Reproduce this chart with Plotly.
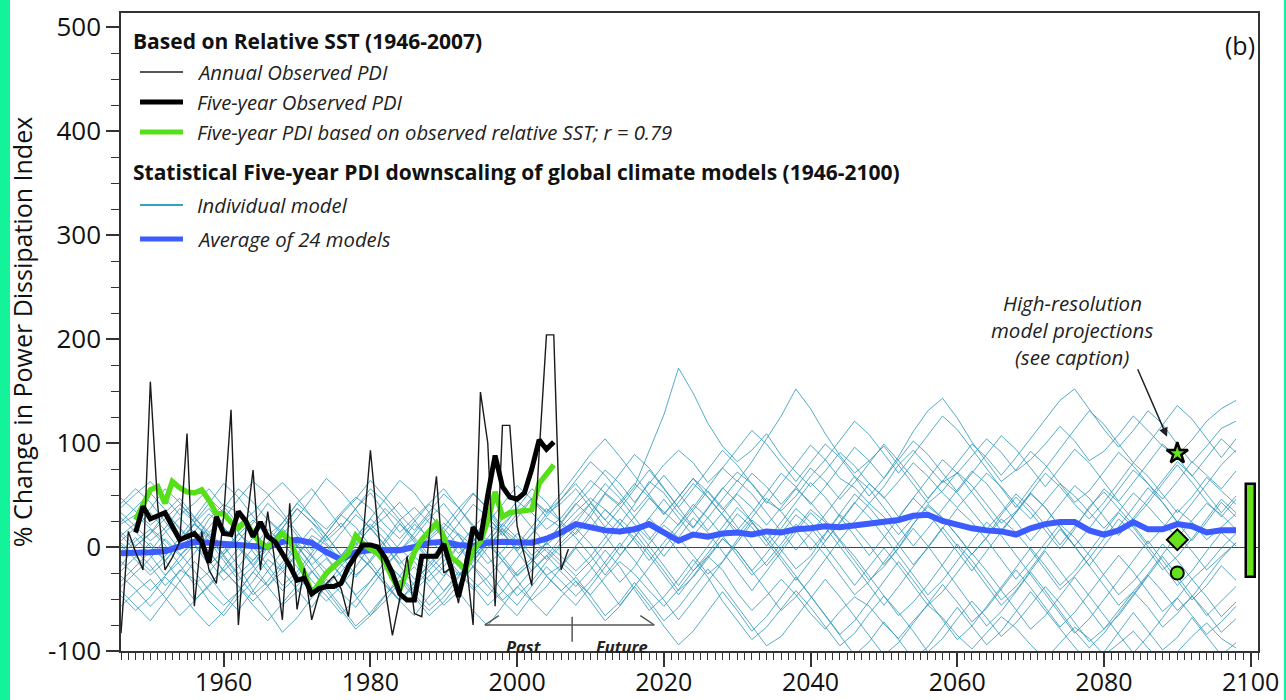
import plotly.graph_objects as go

# ---------------- data ----------------
OBS_YEARS = list(range(1946, 2008))
ANNUAL_PDI = [-83, 15, -5, -22, 159, 40, -22, -10, 5, 109, -57, 15, -22, -35, 30, 132, -75, 15, 74, -22,
              34, -15, -70, 42, -60, -20, -70, -45, -35, -28, -40, -67, -10, 10, 93, 20, -40, -85, -50, -9,
              -64, -67, 10, 68, -25, -20, -54, -10, -75, 149, 100, -57, 117, 117, 20, -10, -37, 90, 204, 204,
              -22, -2]

FIVE_YEARS = list(range(1948, 2006))
FIVE_YEAR_PDI = [14, 39, 27, 30, 33, 20, 7, 10, 13, 5, -15, 29, 13, 12, 34, 25, 10, 24, 10, 5,
                 -6, -18, -32, -30, -45, -40, -38, -38, -35, -19, -8, 2, 2, 0, -10, -25, -45, -51, -51, -9,
                 -9, -9, 3, -20, -48, -19, 19, 7, 50, 88, 58, 48, 46, 52, 75, 103, 94, 101]
SST_PDI = [26, 42, 55, 58, 42, 63, 57, 53, 52, 55, 45, 32, 32, 24, 18, 25, 12, 4, 0, 5,
           13, 6, -9, -25, -45, -35, -25, -19, -12, -6, 11, 3, -2, -6, -15, -30, -41, -22, -5, 7,
           15, 23, 10, -10, -15, -22, -3, 5, 25, 53, 29, 33, 34, 35, 36, 61, 70, 79]

MODEL_YEARS = list(range(1946, 2099, 2))
MODEL_AVG = [-6, -6, -5, -4, 0, 5, 4, 3, 3, 2, 0, 5, 7, 4, -5, -12, -5, -3, -3, -3,
             0, 4, 5, 2, 1, 4, 5, 5, 4, 8, 14, 22, 19, 16, 15, 17, 22, 14, 6, 12,
             10, 13, 14, 12, 15, 14, 17, 18, 20, 19, 21, 22, 24, 26, 30, 31, 25, 21, 18, 16,
             15, 12, 18, 22, 24, 24, 16, 12, 16, 24, 17, 17, 22, 20, 14, 16, 16]

MODEL_01 = [22, 31, 18, 6, -8, 4, 27, 41, 33, 12, -3, -21, -9, 11, 2, -17, -29, -12, 7, 26, 38, 24, 9, -6, 5, 21, 14, -2, 12, 28, 19,
            34, 47, 36, 22, 41, 63, 52, 33, 18, 37, 56, 72, 61, 44, 35, 49, 68, 84, 66, 57, 42, 58, 79, 93, 77, 62, 71, 88, 104, 91,
            73, 84, 99, 116, 102, 83, 92, 108, 126, 112, 97, 88, 103, 121, 133, 141]
MODEL_02 = [-28, -41, -57, -43, -22, -31, -52, -66, -48, -33, -12, -23, -41, -58, -37, -18, -4, -19, -36, -51, -38, -22, -7, -24, -41, -29, -13, 3, -11, -27, -18,
            -33, -46, -29, -14, -26, -42, -57, -41, -23, -9, -22, -44, -61, -47, -31, -46, -64, -79, -62, -48, -57, -74, -88, -71, -56, -68, -85, -98, -83, -67,
            -78, -94, -108, -92, -77, -88, -104, -93, -81, -97, -112, -101, -86, -73, -88, -97]
MODEL_03 = [38, 51, 63, 47, 31, 42, 56, 39, 22, 33, 49, 62, 47, 29, 17, 33, 48, 37, 21, 8, 24, 41, 29, 12, -7, 9, 27, 44, 33, 17, 28,
            46, 64, 52, 41, 58, 92, 127, 172, 148, 119, 97, 82, 93, 109, 88, 72, 58, 73, 91, 78, 61, 47, 63, 81, 68, 52, 38, 54, 71, 58,
            41, 27, 44, 61, 49, 33, 18, 34, 52, 39, 23, 9, 26, 42, 31, 17]
MODEL_04 = [-8, 6, 17, 2, -17, -36, -24, -7, 12, 26, 11, -6, -27, -44, -29, -11, 8, 22, 7, -12, -31, -19, -2, 13, 1, -16, -4, 13, 2, -12, 4,
            18, 3, -16, -34, -19, 3, 21, 9, -8, -26, -14, 7, 26, 14, -3, -21, -9, 12, 31, 19, 2, -17, -1, 22, 39, 28, 11, -7, 9, 31,
            48, 33, 16, -2, 17, 39, 53, 37, 21, 3, 18, 36, 24, 7, 19, 32]
MODEL_05 = [2, -13, -27, -14, 4, 22, 11, -8, -26, -13, 3, 18, 2, -17, -4, 13, 31, 19, 2, -16, -3, 9, 23, 11, -8, 4, 22, 36, 19, 2, 14,
            28, 42, 26, 12, 29, 47, 34, 21, 38, 57, 76, 63, 82, 104, 126, 152, 133, 109, 88, 71, 83, 97, 79, 61, 42, 54, 72, 59, 41, 23,
            34, 52, 71, 58, 41, 27, 43, 62, 81, 68, 51, 33, 48, 67, 54, 41]
MODEL_06 = [-57, -43, -31, -48, -66, -52, -36, -22, -38, -56, -71, -54, -37, -23, -39, -57, -76, -63, -46, -32, -48, -66, -53, -36, -18, -33, -51, -39, -22, -8, -24,
            -38, -22, -3, -19, -41, -61, -48, -31, -12, -29, -52, -71, -89, -77, -59, -42, -58, -76, -95, -83, -64, -47, -63, -81, -101, -88, -69, -52, -68, -86,
            -73, -56, -38, -54, -72, -91, -79, -61, -43, -58, -77, -64, -47, -63, -82, -69]
MODEL_07 = [24, 38, 52, 36, 17, 3, 19, 37, 56, 43, 26, 12, 28, 47, 66, 53, 36, 17, 29, 43, 26, 7, 19, 37, 52, 36, 17, 2, 19, 37, 24,
            12, 29, 51, 39, 22, 7, 24, 43, 61, 48, 31, 16, 33, 52, 71, 58, 41, 58, 77, 96, 83, 66, 87, 111, 131, 143, 124, 101, 82, 63,
            74, 92, 79, 61, 43, 54, 72, 91, 78, 61, 46, 63, 82, 69, 56, 73]
MODEL_08 = [11, -3, -18, -37, -24, -6, 13, 1, -18, -42, -61, -82, -68, -49, -31, -44, -58, -39, -21, -2, -14, -33, -19, 1, 18, 6, -13, -28, -14, 4, -9,
            -23, -9, 9, 27, 14, -4, -23, -42, -29, -11, 8, -4, -23, -42, -61, -48, -31, -12, 7, -9, -28, -47, -66, -53, -36, -17, 3, -13, -32, -51,
            -38, -21, -2, 17, 1, -18, -37, -56, -43, -26, -7, 12, -4, -22, -9, 4]
MODEL_09 = [-18, 1, 13, 32, 19, 2, -17, -4, 13, 1, -18, -37, -24, -6, 13, 31, 46, 64, 48, 31, 16, 33, 51, 38, 21, 2, 14, 32, 47, 34, 46,
            61, 44, 26, 43, 61, 48, 31, 48, 66, 53, 36, 52, 71, 58, 41, 57, 76, 63, 46, 62, 81, 99, 83, 66, 47, 63, 81, 99, 86, 69,
            86, 104, 123, 141, 152, 133, 113, 96, 112, 131, 118, 99, 81, 97, 114, 121]
MODEL_10 = [28, 14, 1, -13, 4, 22, 9, -9, -27, -46, -33, -14, 4, -9, -27, -14, 3, 18, 1, -18, -37, -56, -43, -24, -38, -56, -43, -24, -11, -28, -42,
            -29, -47, -66, -53, -34, -52, -71, -58, -39, -21, -38, -57, -76, -95, -86, -68, -49, -31, -48, -67, -86, -104, -92, -73, -54, -36, -53, -72, -59, -41,
            -22, -39, -58, -77, -63, -44, -26, -8, -24, -43, -62, -49, -31, -48, -67, -53]
MODEL_11 = [47, 34, 21, 33, 47, 29, 11, -7, 6, 23, 42, 29, 11, -8, -22, -9, 9, 27, 14, -3, 9, 27, 42, 24, 6, 23, 41, 59, 46, 29, 46,
            64, 82, 69, 52, 34, 51, 69, 52, 34, 16, 33, 51, 38, 21, 38, 56, 43, 26, 7, 24, 42, 29, 12, 28, 46, 64, 52, 34, 17, 33,
            51, 38, 21, 2, 19, 37, 56, 43, 26, 42, 61, 79, 62, 44, 29, 46]
MODEL_12 = [-38, -24, -11, 8, -6, -23, -42, -56, -43, -24, -6, 13, 1, -18, -37, -24, -6, -19, -37, -52, -34, -16, -1, -19, -33, -47, -29, -11, 8, -4, -18,
            1, 18, 36, 23, 6, -13, 4, 22, 41, 28, 11, -8, -27, -14, 3, 22, 9, -8, -27, -46, -33, -15, 3, 22, 41, 28, 11, -7, 9, 27,
            14, -3, -22, -41, -28, -11, 8, 27, 14, -3, -22, -9, 8, 27, 46, 33]
MODEL_13 = [6, 19, 33, 16, -3, 14, 32, 19, 1, -17, 1, 18, 37, 24, 6, 19, 37, 56, 43, 26, 7, -12, 4, 22, 41, 29, 11, 28, 46, 33, 51,
            70, 89, 104, 87, 69, 51, 32, 48, 66, 48, 31, 12, 28, 47, 34, 16, -3, 13, 32, 51, 38, 21, 2, -17, -1, 18, 37, 24, 7, -12,
            -31, -14, 4, 22, 9, -8, -27, -46, -33, -16, 3, -13, -31, -18, -1, 13]
MODEL_14 = [-4, 9, -8, -27, -14, 3, -13, -32, -19, -1, 17, 4, -13, -32, -47, -64, -51, -33, -14, 3, 22, 9, -8, -27, -14, 3, -13, -32, -51, -38, -19,
            -1, -18, -37, -56, -38, -19, -1, 17, 36, 54, 38, 19, 1, -18, -1, 17, 36, 24, 6, -13, -32, -19, -1, 18, 1, -18, -37, -56, -76, -62,
            -43, -24, -42, -61, -81, -97, -83, -64, -46, -27, -43, -61, -48, -29, -11, 4]
MODEL_15 = [14, 1, 13, 27, 41, 28, 14, 27, 46, 63, 51, 33, 14, -3, 13, 31, 19, 1, -17, -4, 13, 31, 18, 1, -13, 4, 22, 9, -8, 4, 22,
            41, 56, 74, 61, 43, 61, 79, 93, 81, 62, 76, 94, 112, 99, 81, 63, 81, 99, 86, 68, 49, 66, 84, 102, 89, 71, 53, 71, 89, 107,
            94, 76, 58, 76, 94, 81, 63, 44, 62, 81, 99, 86, 68, 86, 104, 91]
MODEL_16 = [-23, -9, 4, -13, -32, -51, -38, -19, -1, -18, -37, -24, -6, 8, -9, -27, -46, -33, -14, -28, -46, -61, -48, -29, -11, 8, -9, -27, -14, -1, -14,
            -28, -14, 3, 22, 9, -8, -27, -46, -28, -9, 8, -4, -23, -6, 13, 31, 19, 1, -18, -37, -19, -1, -18, -37, -56, -43, -24, -6, -23, -42,
            -61, -79, -66, -48, -29, -47, -66, -84, -102, -86, -68, -49, -66, -84, -72, -57]
MODEL_17 = [33, 19, 6, 18, 37, 24, 6, -13, -32, -19, -1, 18, 37, 24, 11, -8, -27, -14, 4, 22, 9, -8, -23, -37, -19, -1, 18, 6, -13, 4, 22,
            9, -8, -27, -9, 9, 27, 46, 28, 11, 28, 46, 64, 51, 33, 16, -3, 13, 31, 49, 68, 56, 38, 19, 1, 18, 36, 54, 73, 61, 43,
            24, 6, 23, 41, 59, 47, 29, 11, 28, 46, 64, 82, 69, 51, 33, 49]
MODEL_18 = [-47, -61, -48, -29, -42, -61, -76, -62, -43, -24, -38, -56, -43, -24, -11, -28, -47, -66, -52, -33, -19, -37, -56, -43, -61, -76, -57, -38, -52, -66, -48,
            -33, -52, -71, -57, -38, -56, -76, -94, -81, -62, -43, -61, -81, -67, -48, -29, -47, -66, -86, -104, -91, -72, -89, -108, -96, -77, -58, -76, -94, -81,
            -62, -43, -61, -79, -96, -112, -101, -82, -63, -81, -99, -87, -68, -86, -104, -92]
MODEL_19 = [11, 23, 37, 56, 43, 24, 42, 61, 48, 29, 11, 23, 42, 29, 11, -8, 9, 28, 46, 64, 52, 33, 14, 32, 51, 38, 19, 37, 56, 43, 24,
            42, 29, 11, -8, 9, 28, 14, -4, -23, -6, 13, 32, 19, 1, 18, 37, 24, 6, 23, 42, 61, 48, 29, 47, 66, 84, 71, 53, 34, 16,
            33, 51, 38, 19, 1, 18, 37, 56, 74, 61, 43, 24, 42, 61, 79, 93]
MODEL_20 = [-14, -28, -42, -28, -9, 8, -4, -23, -9, 9, 27, 14, -4, -23, -42, -61, -79, -66, -47, -28, -9, -23, -42, -28, -9, -23, -42, -56, -38, -19, -33,
            -47, -33, -14, 4, -13, -32, -51, -70, -52, -33, -14, 4, 23, 9, -9, -28, -47, -66, -84, -71, -52, -33, -14, -32, -51, -70, -89, -76, -57, -38,
            -19, -1, -18, -37, -23, -4, 14, 33, 19, 1, -18, -37, -23, -4, 14, 1]
MODEL_21 = [42, 56, 43, 24, 6, 23, 37, 19, 1, -13, 4, 23, 42, 56, 38, 19, 37, 52, 33, 14, 28, 42, 56, 38, 19, 33, 14, -4, 13, 32, 42,
            56, 38, 19, 37, 56, 74, 56, 38, 56, 74, 93, 79, 61, 42, 61, 79, 98, 84, 102, 121, 108, 89, 71, 89, 108, 126, 113, 94, 76, 57,
            38, 57, 76, 94, 113, 131, 118, 99, 81, 99, 118, 136, 123, 104, 86, 104]
MODEL_22 = [-33, -19, -4, 14, 28, 14, -4, -23, -37, -52, -38, -19, 1, 18, 4, -14, 1, 19, 37, 23, 4, -14, -28, -9, 9, 28, 14, -4, -23, -9, 9,
            23, 42, 61, 47, 28, 9, -9, 9, 28, 14, -4, -23, -42, -23, -4, 14, 33, 19, 1, -18, -37, -56, -38, -19, 1, 19, 1, -18, -37, -56,
            -42, -23, -4, -23, -42, -61, -79, -66, -47, -28, -9, -28, -47, -66, -52, -38]
MODEL_23 = [4, -9, -23, -9, 9, 28, 47, 33, 14, -4, -23, -42, -28, -9, 9, 23, 4, -14, -33, -52, -66, -47, -28, -9, 9, -9, -28, -47, -33, -14, 1,
            14, 33, 52, 71, 89, 76, 57, 38, 19, 38, 57, 43, 24, 6, 24, 43, 62, 48, 29, 11, -8, 9, 28, 47, 33, 14, -4, -23, -4, 14,
            33, 52, 38, 19, 1, -18, 1, 19, 38, 57, 43, 24, 6, 24, 43, 29]
MODEL_24 = [-42, -56, -71, -52, -33, -14, -28, -47, -61, -42, -23, -4, -19, -38, -52, -38, -19, 1, -14, -28, -42, -28, -14, 1, -19, -38, -52, -66, -47, -28, -42,
            -56, -38, -19, 1, 19, 1, -18, -37, -18, 1, 19, 38, 24, 6, -13, -32, -13, 6, 24, 43, 29, 11, -8, -27, -46, -32, -13, 6, 24, 11,
            -8, -27, -46, -64, -83, -69, -51, -32, -13, 6, -13, -32, -51, -37, -18, -32]

MODELS = [MODEL_01, MODEL_02, MODEL_03, MODEL_04, MODEL_05, MODEL_06, MODEL_07, MODEL_08,
          MODEL_09, MODEL_10, MODEL_11, MODEL_12, MODEL_13, MODEL_14, MODEL_15, MODEL_16,
          MODEL_17, MODEL_18, MODEL_19, MODEL_20, MODEL_21, MODEL_22, MODEL_23, MODEL_24]

HIRES_YEAR = 2090
HIRES_STAR = 90
HIRES_DIAMOND = 7
HIRES_CIRCLE = -25
RANGE_YEAR = 2100
RANGE_LOW = -29
RANGE_HIGH = 61

X_TICKS = [1960, 1980, 2000, 2020, 2040, 2060, 2080, 2100]
Y_TICKS = [-100, 0, 100, 200, 300, 400, 500]

# ---------------- styling ----------------
FONT = "Open Sans"
TEAL = "rgba(45,150,185,0.8)"
BLUE = "#3d5cff"
GREEN = "#55e01a"
MARK_GREEN = "#66e21c"

L, R, T, B = 121, 1258, 13, 651


def px(x):
    return (x - L) / (R - L)


def py(y):
    return (B - y) / (B - T)


fig = go.Figure()

for row in MODELS:
    fig.add_trace(go.Scatter(x=MODEL_YEARS[:len(row)], y=row, mode="lines",
                             line=dict(color=TEAL, width=1), hoverinfo="skip"))

fig.add_trace(go.Scatter(x=MODEL_YEARS, y=MODEL_AVG, mode="lines",
                         line=dict(color=BLUE, width=6)))
fig.add_trace(go.Scatter(x=FIVE_YEARS, y=SST_PDI, mode="lines",
                         line=dict(color=GREEN, width=5.5)))
fig.add_trace(go.Scatter(x=OBS_YEARS, y=ANNUAL_PDI, mode="lines",
                         line=dict(color="#1a1a1a", width=1.4)))
fig.add_trace(go.Scatter(x=FIVE_YEARS, y=FIVE_YEAR_PDI, mode="lines",
                         line=dict(color="black", width=5)))

# high-resolution projections
fig.add_trace(go.Scatter(x=[HIRES_YEAR], y=[HIRES_STAR], mode="markers",
                         marker=dict(symbol="star", size=16, color=MARK_GREEN,
                                     line=dict(color="black", width=2.5))))
fig.add_trace(go.Scatter(x=[HIRES_YEAR], y=[HIRES_DIAMOND], mode="markers",
                         marker=dict(symbol="diamond", size=16, color=MARK_GREEN,
                                     line=dict(color="black", width=2))))
fig.add_trace(go.Scatter(x=[HIRES_YEAR], y=[HIRES_CIRCLE], mode="markers",
                         marker=dict(symbol="circle", size=13, color=MARK_GREEN,
                                     line=dict(color="black", width=2))))
fig.add_trace(go.Bar(x=[RANGE_YEAR], y=[RANGE_HIGH - RANGE_LOW], base=[RANGE_LOW], width=1.25,
                     marker=dict(color=MARK_GREEN, line=dict(color="black", width=2.5))))

shapes = []
annotations = []

# left / right page border
shapes.append(dict(type="rect", xref="paper", yref="paper", x0=px(0), x1=px(10), y0=py(700), y1=py(0),
                   fillcolor="#12f39a", line=dict(width=0), layer="below"))
shapes.append(dict(type="line", xref="paper", yref="paper", x0=px(1285), x1=px(1285), y0=py(700), y1=py(0),
                   line=dict(color="#12f39a", width=2)))

# legend
legend_rows = [
    (72, "#555555", 2, "Annual Observed PDI"),
    (102, "black", 5, "Five-year Observed PDI"),
    (132, GREEN, 5, "Five-year PDI based on observed relative SST; r = 0.79"),
    (205, "#3a9fc0", 2, "Individual model"),
    (239, BLUE, 5, "Average of 24 models"),
]
for yy, col, w, txt in legend_rows:
    shapes.append(dict(type="line", xref="paper", yref="paper", x0=px(140), x1=px(183), y0=py(yy), y1=py(yy),
                       line=dict(color=col, width=w)))
    annotations.append(dict(xref="paper", yref="paper", x=px(195), y=py(yy), xanchor="left", yanchor="middle",
                            text="<i>" + txt + "</i>", showarrow=False,
                            font=dict(family=FONT, size=20.3, color="#222")))
for yy, txt in [(41, "Based on Relative SST (1946-2007)"),
                (172, "Statistical Five-year PDI downscaling of global climate models (1946-2100)")]:
    annotations.append(dict(xref="paper", yref="paper", x=px(131), y=py(yy), xanchor="left", yanchor="middle",
                            text="<b>" + txt + "</b>", showarrow=False,
                            font=dict(family=FONT, size=21, color="#111")))

annotations.append(dict(xref="paper", yref="paper", x=px(1257), y=py(45), xanchor="right", yanchor="middle",
                        text="(b)", showarrow=False, font=dict(family=FONT, size=25, color="#111")))

for yy, txt in [(303, "High-resolution"), (330, "model projections"), (357, "(see caption)")]:
    annotations.append(dict(xref="paper", yref="paper", x=px(1072), y=py(yy), xanchor="center", yanchor="middle",
                            text="<i>" + txt + "</i>", showarrow=False,
                            font=dict(family=FONT, size=20.5, color="#222")))
annotations.append(dict(x=2088.6, y=106, xref="x", yref="y", ax=-30, ay=-69, text="", showarrow=True,
                        arrowhead=2, arrowsize=1.2, arrowwidth=1.5, arrowcolor="#222"))

# Past / Future bracket
br = "#555555"
for x0, y0, x1, y1 in [(1995.6, -75, 2018.7, -75), (1995.6, -75, 1997.5, -66), (2018.7, -75, 2016.8, -66),
                       (2007.5, -67, 2007.5, -91)]:
    shapes.append(dict(type="line", xref="x", yref="y", x0=x0, y0=y0, x1=x1, y1=y1,
                       line=dict(color=br, width=1.5)))
annotations.append(dict(x=2001, y=-83, xref="x", yref="y", text="<b><i>Past</i></b>", showarrow=False,
                        font=dict(family=FONT, size=16.5, color="#222"), yanchor="top"))
annotations.append(dict(x=2014.3, y=-83, xref="x", yref="y", text="<b><i>Future</i></b>", showarrow=False,
                        font=dict(family=FONT, size=16.5, color="#222"), yanchor="top"))

fig.update_layout(
    width=1286, height=700,
    margin=dict(l=L, r=1286 - R, t=T, b=700 - B, pad=0),
    paper_bgcolor="white", plot_bgcolor="white",
    showlegend=False,
    font=dict(family=FONT, color="#111"),
    shapes=shapes, annotations=annotations,
    bargap=0,
)
fig.update_xaxes(range=[1946, 2101], showgrid=False, zeroline=False, automargin=False,
                 showline=True, linecolor="#333", linewidth=1.5, mirror=True,
                 tickmode="array", tickvals=X_TICKS, ticktext=[str(v) for v in X_TICKS],
                 ticks="outside", ticklen=14, tickwidth=1.5, tickcolor="#333",
                 ticklabelstandoff=-6,
                 tickfont=dict(family=FONT, size=25, color="#111"),
                 minor=dict(tickmode="linear", tick0=1946, dtick=1, ticks="outside", ticklen=7,
                            tickwidth=1, tickcolor="#333", showgrid=False))
fig.update_yaxes(range=[-100, 513.5], showgrid=False, automargin=False,
                 zeroline=True, zerolinecolor="#444", zerolinewidth=1,
                 showline=True, linecolor="#333", linewidth=1.5, mirror=True,
                 tickmode="array", tickvals=Y_TICKS, ticktext=[str(v) for v in Y_TICKS],
                 ticks="outside", ticklen=13, tickwidth=1.5, tickcolor="#333",
                 tickfont=dict(family=FONT, size=26, color="#111"),
                 title=dict(text="% Change in Power Dissipation Index", standoff=8,
                            font=dict(family=FONT, size=25, color="#111")),
                 minor=dict(tickmode="linear", tick0=0, dtick=25, ticks="outside", ticklen=8,
                            tickwidth=1, tickcolor="#333", showgrid=False))

fig.write_html("out.html")
